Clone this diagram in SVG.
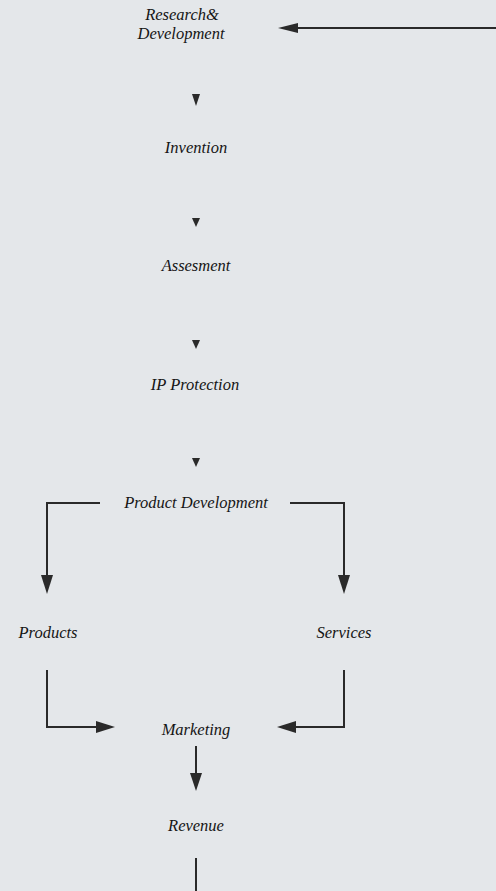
<svg xmlns="http://www.w3.org/2000/svg" width="496" height="891" viewBox="0 0 496 891">
<style>
text{font-family:"Liberation Serif","Times New Roman",serif;font-style:italic;font-size:16.5px;fill:#151515;text-anchor:middle}
.c{fill:none;stroke:#2a2a2a;stroke-width:2}
.h{fill:#2a2a2a}
</style>
<rect width="496" height="891" fill="#e4e7ea"/>
<g id="rd"><text x="182" y="20" font-size="16">Research&amp;</text><text x="181" y="38.5" font-size="16">Development</text></g>
<g id="invention"><text x="196" y="153">Invention</text></g>
<g id="assesment"><text x="196" y="271">Assesment</text></g>
<g id="ip"><text x="195" y="390">IP Protection</text></g>
<g id="pd"><text x="196" y="508">Product Development</text></g>
<g id="products"><text x="48" y="638">Products</text></g>
<g id="services"><text x="344" y="638">Services</text></g>
<g id="marketing"><text x="196" y="735">Marketing</text></g>
<g id="revenue"><text x="196" y="831">Revenue</text></g>
<g id="connectors">
<path class="c" d="M496 28H296"/><path class="h" d="M278 28L298 23L298 33Z"/>
<path class="h" d="M192 94L200 94L196 106Z"/>
<path class="h" d="M192 218L200 218L196 227Z"/>
<path class="h" d="M192 340L200 340L196 349Z"/>
<path class="h" d="M192 458L200 458L196 467Z"/>
<path class="c" d="M100 503H47V578"/><path class="h" d="M41 575L53 575L47 594Z"/>
<path class="c" d="M290 503H344V578"/><path class="h" d="M338 575L350 575L344 594Z"/>
<path class="c" d="M47 670V727H98"/><path class="h" d="M96 721L96 733L115 727Z"/>
<path class="c" d="M344 670V727H294"/><path class="h" d="M296 721L296 733L277 727Z"/>
<path class="c" d="M196 746V775"/><path class="h" d="M190 773L202 773L196 791Z"/>
<path class="c" d="M196 858V891"/>
</g>
</svg>
